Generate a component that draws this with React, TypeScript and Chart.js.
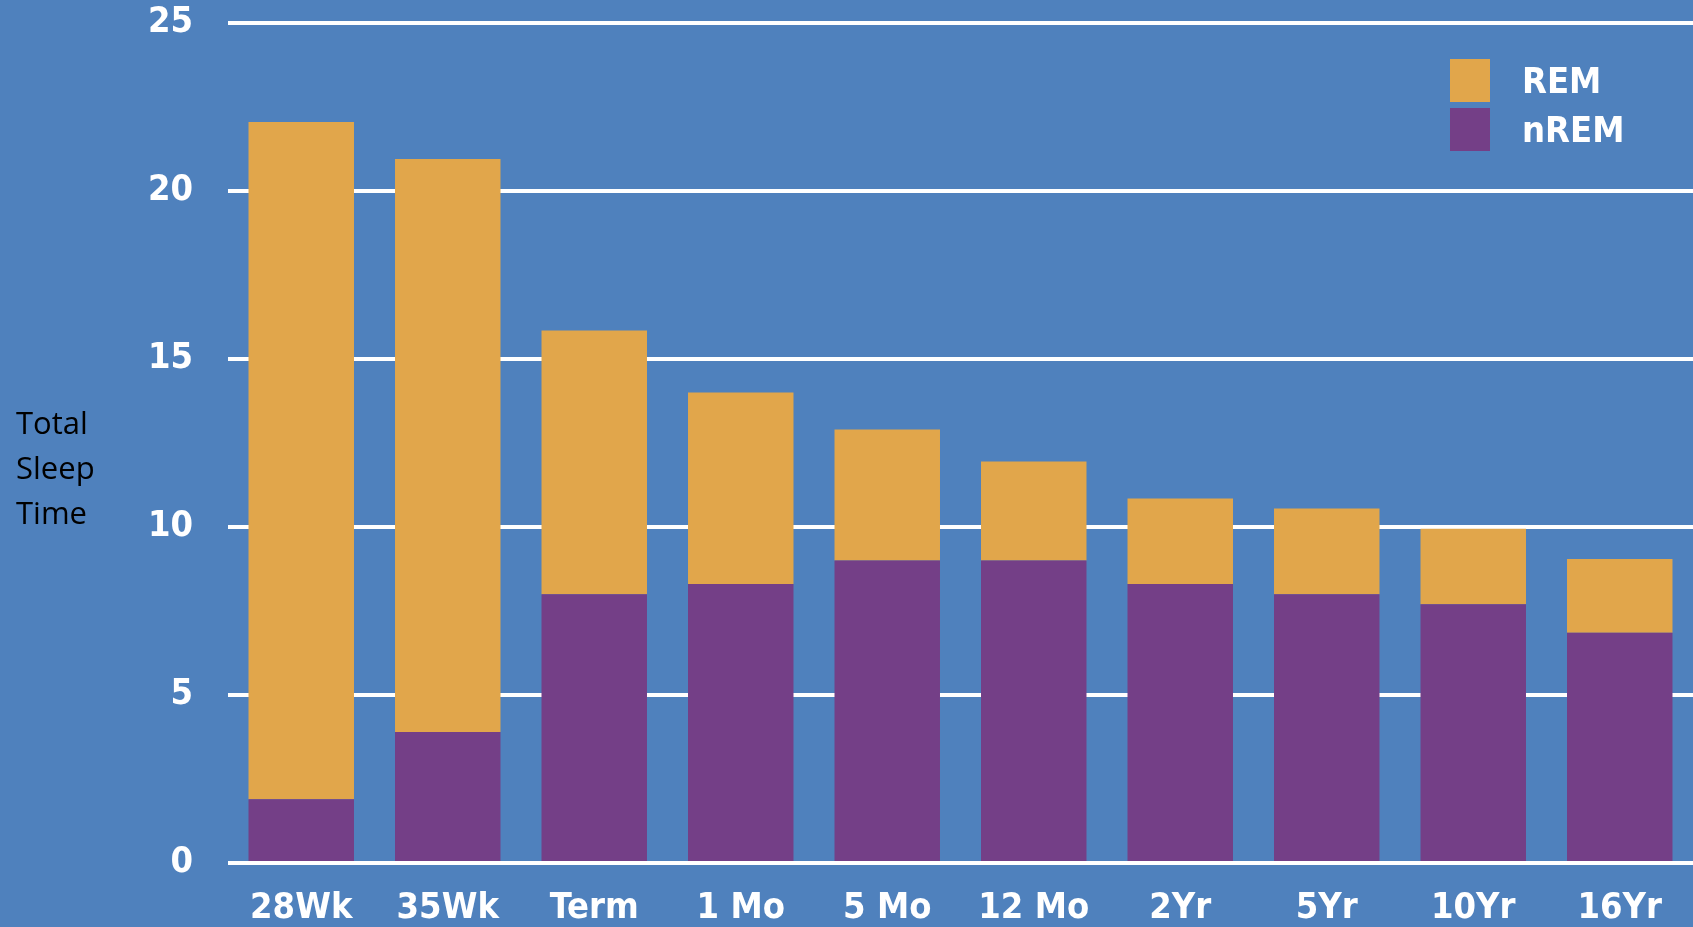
import React, { useEffect, useRef } from "react";
import { Chart, registerables } from "chart.js";

Chart.register(...registerables);

const categories = ["28Wk", "35Wk", "Term", "1 Mo", "5 Mo", "12 Mo", "2Yr", "5Yr", "10Yr", "16Yr"];
const nremValues = [1.9, 3.9, 8.0, 8.3, 9.0, 9.0, 8.3, 8.0, 7.7, 6.85];
const remValues = [20.15, 17.05, 7.85, 5.7, 3.9, 2.95, 2.55, 2.55, 2.25, 2.2];
const yTicks = [0, 5, 10, 15, 20, 25];
const axisTitleLines = ["Total", "Sleep", "Time"];

const BG = "#4F81BD";
const REM_COLOR = "#E1A64B";
const NREM_COLOR = "#743F87";
const TICK_FONT = "'Liberation Sans Narrow', 'DejaVu Sans Condensed', 'Liberation Sans', sans-serif";

export default function App() {
  const canvasRef = useRef<HTMLCanvasElement | null>(null);

  useEffect(() => {
    const canvas = canvasRef.current;
    if (!canvas) return;
    const chart = new Chart(canvas, {
      type: "bar",
      data: {
        labels: categories,
        datasets: [
          {
            label: "nREM",
            data: nremValues,
            backgroundColor: NREM_COLOR,
            borderWidth: 0,
            categoryPercentage: 1,
            barPercentage: 0.72,
          },
          {
            label: "REM",
            data: remValues,
            backgroundColor: REM_COLOR,
            borderWidth: 0,
            categoryPercentage: 1,
            barPercentage: 0.72,
          },
        ],
      },
      options: {
        animation: false,
        responsive: false,
        maintainAspectRatio: false,
        layout: { padding: { top: 23, left: 0, right: 0, bottom: 0 } },
        plugins: {
          legend: { display: false },
          tooltip: { enabled: false },
        },
        scales: {
          x: {
            stacked: true,
            afterFit: (scale: any) => {
              scale.height = 64;
              scale.paddingLeft = 0;
              scale.paddingRight = 0;
            },
            grid: { display: false, drawTicks: false },
            border: { display: false },
            ticks: {
              color: "#FFFFFF",
              padding: 24,
              font: { family: TICK_FONT, size: 36, weight: "bold" },
              maxRotation: 0,
              autoSkip: false,
            },
          },
          y: {
            stacked: true,
            min: 0,
            max: 25,
            afterFit: (scale: any) => {
              scale.width = 228;
              scale.paddingTop = 0;
              scale.paddingBottom = 0;
            },
            afterBuildTicks: (scale: any) => {
              scale.ticks = yTicks.map((v) => ({ value: v }));
            },
            grid: { color: "#FFFFFF", lineWidth: 4, drawTicks: false },
            border: { display: false },
            ticks: {
              color: "#FFFFFF",
              padding: 35,
              font: { family: TICK_FONT, size: 36, weight: "bold" },
            },
          },
        },
      },
    });
    return () => chart.destroy();
  }, []);

  const legendItems = [
    { label: "REM", color: REM_COLOR },
    { label: "nREM", color: NREM_COLOR },
  ];

  return (
    <div
      style={{
        position: "fixed",
        left: 0,
        top: 0,
        width: 1693,
        height: 927,
        background: BG,
        overflow: "hidden",
      }}
    >
      <canvas ref={canvasRef} width={1693} height={927} style={{ display: "block" }} />
      <div
        style={{
          position: "absolute",
          left: 16,
          top: 400,
          fontFamily: "'Open Sans', 'Liberation Sans', sans-serif",
          fontSize: 31,
          lineHeight: "45px",
          color: "#000000",
        }}
      >
        {axisTitleLines.map((t) => (
          <div key={t}>{t}</div>
        ))}
      </div>
      <div style={{ position: "absolute", left: 1450, top: 56 }}>
        {legendItems.map((it) => (
          <div key={it.label} style={{ display: "flex", alignItems: "center", height: 49 }}>
            <div style={{ width: 40, height: 43, background: it.color }} />
            <div
              style={{
                marginLeft: 32,
                color: "#FFFFFF",
                fontFamily: TICK_FONT,
                fontWeight: "bold",
                fontSize: 36,
              }}
            >
              {it.label}
            </div>
          </div>
        ))}
      </div>
    </div>
  );
}
